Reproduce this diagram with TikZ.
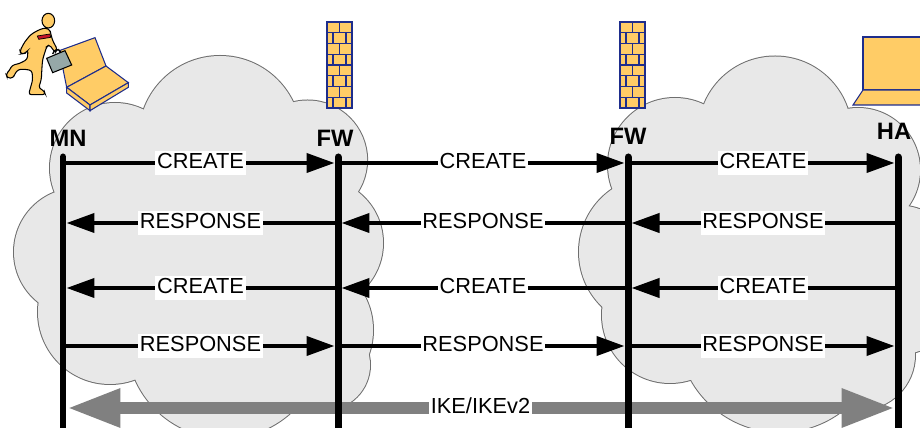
\documentclass[tikz,border=0pt]{standalone}
\usepackage{fontspec}
\setmainfont{Liberation Sans}
\usetikzlibrary{arrows.meta}
\definecolor{cloudfill}{RGB}{232,232,232}
\definecolor{cloudline}{RGB}{110,110,110}
\definecolor{iconfill}{RGB}{255,204,102}
\definecolor{iconline}{RGB}{30,45,140}
\definecolor{casefill}{RGB}{150,168,168}
\definecolor{tiered}{RGB}{200,20,40}
\definecolor{ikegray}{RGB}{128,128,128}

% circles (x/y/radius) whose union forms each cloud
\def\leftcloud{220/137/81, 115/168/65, 307.6/160/59.5, 318.5/243/64.5, 300/330/73, 325/365/45, 225/340/98, 110/312/72, 78/252/64, 215/265/125}
\def\rightcloud{775/133/76.5, 675/165/67, 655/252/76, 670/315/68, 780/330/102, 860/355/55, 858/170/62, 895/280/75, 760/250/130}

\begin{document}
\begin{tikzpicture}[x=0.02cm,y=-0.02cm,
  lifeline/.style={line width=0.14cm, line cap=round},
  msg/.style={line width=0.08cm, -{Triangle[length=0.56cm,width=0.38cm]}, shorten >=0.07cm},
  lbl/.style={fill=white, inner xsep=1pt, inner ysep=0pt, text height=10pt, text depth=3.2pt, font=\fontsize{12.4}{14}\selectfont},
  hdr/.style={inner sep=0pt, font=\fontsize{13.5}{16}\selectfont\bfseries},
  ike/.style={line width=0.24cm, draw=ikegray, {Triangle[length=1.07cm,width=0.72cm]}-{Triangle[length=1.07cm,width=0.72cm]}, shorten <=0.08cm, shorten >=0.06cm},
  wall/.style={fill=iconfill, draw=iconline, line width=0.6pt},
  brick/.style={draw=iconline, line width=0.6pt},
]
\useasboundingbox (0,0) rectangle (920,428);

% clouds: outline first, then the fill on top leaves only the outer rim
\begin{scope}
  \clip (0,0) rectangle (920,428);
  \foreach \cx/\cy/\r in \leftcloud {\draw[cloudline, line width=0.04cm] (\cx,\cy) circle[radius=\r];}
  \foreach \cx/\cy/\r in \rightcloud {\draw[cloudline, line width=0.04cm] (\cx,\cy) circle[radius=\r];}
  \foreach \cx/\cy/\r in \leftcloud {\fill[cloudfill] (\cx,\cy) circle[radius=\r];}
  \foreach \cx/\cy/\r in \rightcloud {\fill[cloudfill] (\cx,\cy) circle[radius=\r];}
\end{scope}

% firewalls
\foreach \wx in {327,620} {
  \path[wall] (\wx,22) rectangle ++(25,86);
  \foreach \i in {1,...,7} {\draw[brick] (\wx,22+\i*10.75) -- ++(25,0);}
  \foreach \i in {0,2,4,6} {\draw[brick] (\wx+12.5,22+\i*10.75) -- ++(0,10.75);}
  \foreach \i in {1,3,5,7} {
    \draw[brick] (\wx+6,22+\i*10.75) -- ++(0,10.75);
    \draw[brick] (\wx+19,22+\i*10.75) -- ++(0,10.75);}
}

% home agent laptop
\path[wall] (863,37) rectangle (925,90);
\path[wall] (863,90) -- (925,90) -- (925,105) -- (853,105) -- cycle;

% mobile node: running man carrying a laptop
\begin{scope}[scale=1/3]
  % laptop
  \path[wall] (178,152) -- (285,113) -- (318,198) -- (200,262) -- cycle;
  \path[wall] (200,262) -- (318,198) -- (385,248) -- (270,315) -- cycle;
  \path[wall] (200,262) -- (270,315) -- (270,332) -- (200,279) -- cycle;
  \path[wall] (270,315) -- (385,248) -- (385,262) -- (270,332) -- cycle;
  % figure
  \filldraw[fill=iconfill, draw=black, line width=0.6pt, rounded corners=1.5pt]
    (138,84) -- (150,90) -- (152,100) -- (158,122) -- (172,148) -- (166,158)
    -- (148,134) -- (140,140) -- (128,178) -- (126,200) -- (124,238) -- (116,264)
    -- (132,272) -- (136,284) -- (86,284) -- (90,268) -- (98,240) -- (96,212)
    -- (78,208) -- (55,208) -- (44,222) -- (40,234) -- (22,234) -- (18,222)
    -- (28,212) -- (36,196) -- (60,190) -- (82,178) -- (84,150) -- (76,160)
    -- (62,162) -- (60,152) -- (74,126) -- (92,104) -- (112,92) -- (126,86) -- cycle;
  \filldraw[fill=iconfill, draw=black, line width=0.6pt] (145,62) ellipse[x radius=19, y radius=22];
  \filldraw[fill=tiered, draw=black, line width=0.4pt] (112,108) -- (150,102) -- (152,112) -- (116,118) -- cycle;
  % briefcase
  \draw[line width=0.8pt] (158,162) .. controls (162,148) and (176,144) .. (182,156);
  \filldraw[fill=casefill, draw=black, line width=0.6pt] (140,175) -- (195,152) -- (215,195) -- (158,218) -- cycle;
\end{scope}

% lifeline positions per message row
\foreach \n/\x in {mn/63, fwa/338, fwb/628, ha/898} {
  \coordinate (\n-top) at (\x,157);
  \coordinate (\n-bot) at (\x,432);
  \foreach \r/\y in {1/163, 2/223, 3/288, 4/346, 5/408} {\coordinate (\n-\r) at (\x,\y);}
}

% headers
\node[hdr] (mnh) at (68,138) {MN};
\node[hdr] (fwah) at (335,138) {FW};
\node[hdr] (fwbh) at (628,136) {FW};
\node[hdr] (hah) at (894,131) {HA};

% messages
\draw[msg] (mn-1) -- node[lbl]{CREATE} (fwa-1);
\draw[msg] (fwa-1) -- node[lbl]{CREATE} (fwb-1);
\draw[msg] (fwb-1) -- node[lbl]{CREATE} (ha-1);

\draw[msg] (fwa-2) -- node[lbl]{RESPONSE} (mn-2);
\draw[msg] (fwb-2) -- node[lbl]{RESPONSE} (fwa-2);
\draw[msg] (ha-2) -- node[lbl]{RESPONSE} (fwb-2);

\draw[msg] (fwa-3) -- node[lbl]{CREATE} (mn-3);
\draw[msg] (fwb-3) -- node[lbl]{CREATE} (fwa-3);
\draw[msg] (ha-3) -- node[lbl]{CREATE} (fwb-3);

\draw[msg] (mn-4) -- node[lbl]{RESPONSE} (fwa-4);
\draw[msg] (fwa-4) -- node[lbl]{RESPONSE} (fwb-4);
\draw[msg] (fwb-4) -- node[lbl]{RESPONSE} (ha-4);

% IKE tunnel
\draw[ike] (mn-5) -- node[lbl]{IKE/IKEv2} (ha-5);

% lifelines
\foreach \n in {mn, fwa, fwb, ha} {\draw[lifeline] (\n-top) -- (\n-bot);}
\end{tikzpicture}
\end{document}
